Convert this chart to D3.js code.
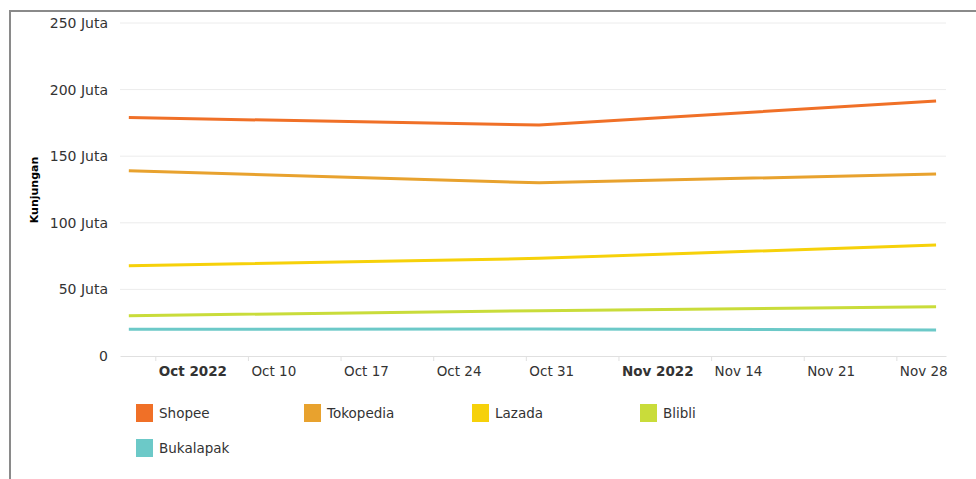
<!DOCTYPE html>
<html>
<head>
<meta charset="utf-8">
<script src="https://cdn.jsdelivr.net/npm/d3@7"></script>
<style>
  body { margin: 0; background: #fff; }
  svg { display: block; font-family: 'DejaVu Sans', Verdana, sans-serif; }
</style>
</head>
<body>
<svg width="976" height="479"></svg>
<script>
// monthly visits (juta) per marketplace
const dates = ['2022-10-01', '2022-11-01', '2022-12-01'];
const seriesNames = ['Shopee', 'Tokopedia', 'Lazada', 'Blibli', 'Bukalapak'];
const shopee = [179, 173.4, 191.4];
const tokopedia = [139, 130, 136.6];
const lazada = [67.8, 73.3, 83.3];
const blibli = [30.3, 34, 37];
const bukalapak = [20, 20.2, 19.5];
const yTicks = [0, 50, 100, 150, 200, 250];
const colors = ['#f07027', '#e8a22e', '#f6d10a', '#c9dc3a', '#6cc9c8'];

let svg = d3.select('svg');

// frame (left + top edge only, like the screenshot)
svg.append('path')
	.attr('d', 'M10,479 V11 H976')
	.attr('fill', 'none')
	.attr('stroke', '#8a8a8a')
	.attr('stroke-width', 2);

let parse = d3.timeParse('%Y-%m-%d');
let series = [shopee, tokopedia, lazada, blibli, bukalapak].map((vals, i) => ({
	name: seriesNames[i],
	color: colors[i],
	values: vals.map((v, j) => ({ date: parse(dates[j]), value: v }))
}));

let x = d3.scaleTime()
	.domain([new Date(2022, 8, 30, 8), new Date(2022, 11, 1, 18)])
	.range([120, 946]);
let y = d3.scaleLinear().domain([0, 250]).range([356, 23]);

// gridlines
svg.append('g')
	.selectAll('line')
	.data(yTicks.filter((d) => d > 0))
	.join('line')
	.attr('x1', 120)
	.attr('x2', 946)
	.attr('y1', (d) => y(d))
	.attr('y2', (d) => y(d))
	.attr('stroke', '#ececec');

// y labels
svg.append('g')
	.selectAll('text')
	.data(yTicks)
	.join('text')
	.attr('x', 108)
	.attr('y', (d) => y(d))
	.attr('dy', '0.35em')
	.attr('text-anchor', 'end')
	.attr('fill', '#333')
	.style('font-size', '14px')
	.text((d) => (d === 0 ? '0' : d + ' Juta'));

svg.append('text')
	.attr('transform', 'translate(38,190) rotate(-90)')
	.attr('text-anchor', 'middle')
	.style('font-size', '11px')
	.style('font-weight', 'bold')
	.attr('fill', '#000')
	.text('Kunjungan');

// x axis
let fmtMonth = d3.timeFormat('%b %Y');
let fmtDay = d3.timeFormat('%b %-d');
let xAxis = svg.append('g')
	.attr('transform', 'translate(0,356)')
	.call(d3.axisBottom(x).ticks(d3.timeMonday.every(1)).tickSize(5).tickSizeOuter(0)
		.tickFormat((d) => (d.getDate() <= 7 ? fmtMonth(d) : fmtDay(d))));
xAxis.select('.domain').attr('stroke', '#e0e0e0');
xAxis.selectAll('.tick line').attr('stroke', '#e0e0e0');
xAxis.selectAll('.tick text')
	.attr('text-anchor', 'start')
	.attr('x', 3)
	.attr('y', 10)
	.attr('dy', '0.71em')
	.attr('fill', '#333')
	.style('font-size', '13.5px')
	.style('font-family', "'DejaVu Sans', Verdana, sans-serif")
	.style('font-weight', (d) => (d.getDate() <= 7 ? 'bold' : 'normal'));

// lines
let line = d3.line()
	.x((d) => x(d.date))
	.y((d) => y(d.value));

svg.append('g')
	.selectAll('path')
	.data(series)
	.join('path')
	.attr('fill', 'none')
	.attr('stroke', (d) => d.color)
	.attr('stroke-width', 3)
	.attr('stroke-linejoin', 'round')
	.attr('d', (d) => line(d.values));

// legend
let legend = svg.append('g')
	.selectAll('g')
	.data(series)
	.join('g')
	.attr('transform', (d, i) => 'translate(' + (136 + (i % 4) * 168) + ',' + (404 + Math.floor(i / 4) * 35) + ')');
legend.append('rect')
	.attr('width', 17)
	.attr('height', 18)
	.attr('fill', (d) => d.color);
legend.append('text')
	.attr('x', 23)
	.attr('y', 9)
	.attr('dy', '0.35em')
	.attr('fill', '#333')
	.style('font-size', '13.5px')
	.text((d) => d.name);
</script>
</body>
</html>
